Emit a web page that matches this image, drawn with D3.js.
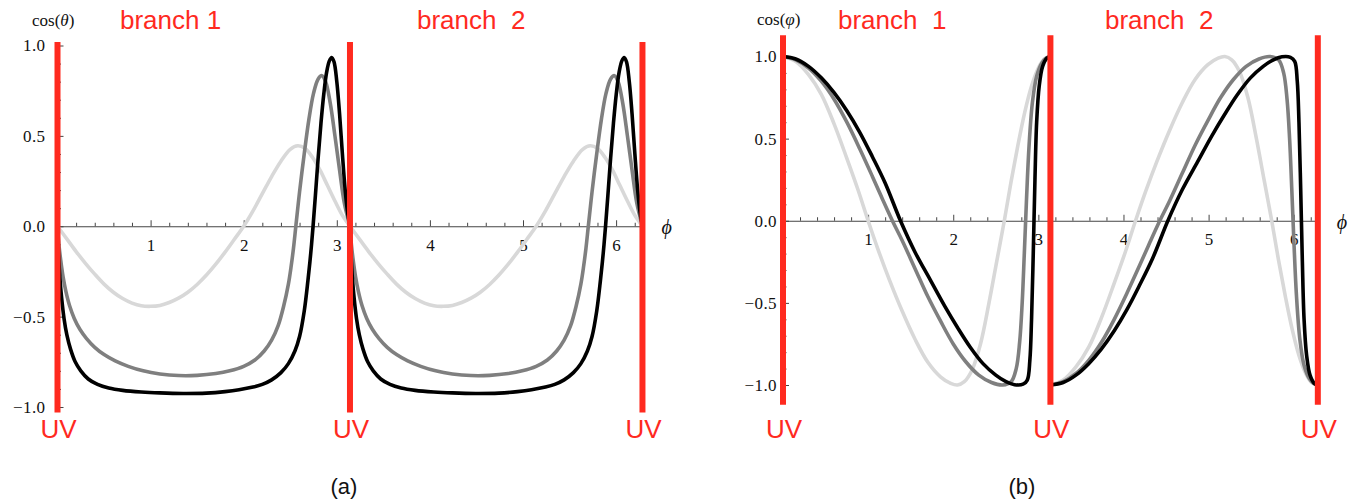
<!DOCTYPE html>
<html><head><meta charset="utf-8">
<script src="https://cdn.jsdelivr.net/npm/d3@7"></script>
<style>body{margin:0;background:#fff} svg{display:block}</style>
</head><body>
<svg id="c" width="1363" height="504"></svg>
<script>
// ---------- DATA ----------
// Panel (a): cos(theta) vs phi on branch 1 (0..pi); branch 2 repeats it.
const thetaLight = [[0,0],[0.1,-0.07],[0.2,-0.14],[0.3,-0.205],[0.4,-0.265],[0.5,-0.32],[0.6,-0.365],[0.7,-0.40],[0.8,-0.425],[0.9,-0.44],[1.0,-0.443],[1.1,-0.438],[1.2,-0.422],[1.3,-0.398],[1.4,-0.365],[1.5,-0.322],[1.6,-0.27],[1.7,-0.21],[1.8,-0.143],[1.9,-0.072],[2.0,0],[2.1,0.085],[2.2,0.18],[2.3,0.275],[2.4,0.36],[2.5,0.425],[2.58,0.445],[2.66,0.43],[2.74,0.38],[2.82,0.31],[2.9,0.225],[2.98,0.14],[3.06,0.06],[3.1416,0]];
const thetaGray = [[0,0],[0.015,-0.1],[0.035,-0.19],[0.06,-0.28],[0.09,-0.36],[0.13,-0.44],[0.18,-0.51],[0.24,-0.57],[0.31,-0.62],[0.4,-0.67],[0.5,-0.71],[0.62,-0.745],[0.76,-0.775],[0.92,-0.80],[1.1,-0.817],[1.3,-0.826],[1.5,-0.825],[1.7,-0.815],[1.85,-0.80],[2.0,-0.775],[2.12,-0.74],[2.22,-0.69],[2.3,-0.63],[2.37,-0.55],[2.43,-0.44],[2.48,-0.32],[2.51,-0.22],[2.535,-0.12],[2.56,0.0],[2.6,0.19],[2.65,0.40],[2.7,0.59],[2.75,0.735],[2.8,0.815],[2.84,0.833],[2.88,0.80],[2.93,0.68],[2.98,0.50],[3.03,0.31],[3.08,0.13],[3.1416,0]];
const thetaBlack = [[0,0],[0.01,-0.14],[0.025,-0.28],[0.045,-0.40],[0.07,-0.51],[0.1,-0.60],[0.14,-0.68],[0.19,-0.75],[0.25,-0.80],[0.33,-0.845],[0.43,-0.875],[0.55,-0.895],[0.7,-0.908],[0.9,-0.917],[1.1,-0.922],[1.35,-0.925],[1.6,-0.923],[1.8,-0.915],[1.95,-0.905],[2.1,-0.89],[2.2,-0.875],[2.3,-0.85],[2.4,-0.81],[2.48,-0.76],[2.55,-0.69],[2.6,-0.61],[2.65,-0.47],[2.69,-0.30],[2.72,-0.15],[2.745,0],[2.77,0.17],[2.8,0.38],[2.83,0.57],[2.86,0.73],[2.89,0.85],[2.92,0.915],[2.945,0.934],[2.97,0.91],[3.0,0.80],[3.03,0.62],[3.06,0.40],[3.09,0.2],[3.115,0.08],[3.1416,0]];
const thetaBranchSign = [1, 1];

// Panel (b): cos(varphi) vs phi on branch 1 (0..pi); branch 2 is its mirror image.
const varphiLight = [[0,1],[0.15,0.97],[0.3,0.89],[0.45,0.77],[0.6,0.59],[0.75,0.38],[0.88,0.19],[1.0,0],[1.12,-0.18],[1.25,-0.36],[1.4,-0.55],[1.55,-0.72],[1.7,-0.86],[1.85,-0.95],[1.97,-0.99],[2.05,-1.0],[2.13,-0.98],[2.22,-0.91],[2.32,-0.75],[2.42,-0.5],[2.51,-0.25],[2.6,0],[2.68,0.24],[2.76,0.46],[2.84,0.66],[2.92,0.82],[3.0,0.93],[3.07,0.985],[3.1416,1]];
const varphiGray = [[0,1],[0.15,0.98],[0.3,0.93],[0.45,0.85],[0.6,0.74],[0.75,0.6],[0.9,0.44],[1.05,0.27],[1.17,0.13],[1.285,0],[1.4,-0.12],[1.55,-0.29],[1.7,-0.46],[1.85,-0.61],[2.0,-0.75],[2.15,-0.86],[2.3,-0.94],[2.45,-0.985],[2.58,-1.0],[2.68,-0.98],[2.74,-0.9],[2.78,-0.74],[2.81,-0.5],[2.835,-0.2],[2.86,0.12],[2.89,0.45],[2.93,0.72],[2.98,0.88],[3.04,0.96],[3.09,0.99],[3.1416,1]];
const varphiBlack = [[0,1],[0.15,0.985],[0.3,0.94],[0.45,0.87],[0.6,0.78],[0.75,0.67],[0.9,0.54],[1.05,0.39],[1.2,0.23],[1.38,0],[1.55,-0.19],[1.73,-0.36],[1.9,-0.52],[2.05,-0.65],[2.2,-0.77],[2.35,-0.87],[2.5,-0.94],[2.62,-0.98],[2.72,-0.998],[2.82,-0.995],[2.87,-0.97],[2.9,-0.85],[2.92,-0.6],[2.94,-0.2],[2.96,0.25],[2.98,0.6],[3.01,0.82],[3.05,0.94],[3.1,0.99],[3.1416,1]];
const varphiBranchSign = [1, -1];

const branchOffsets = [0, Math.PI];
const uvPositions = [0, Math.PI, 2 * Math.PI];
const xTickValues = [1, 2, 3, 4, 5, 6];
const yTickValues = [-1, -0.5, 0, 0.5, 1];
const yTickLabels = ["\u22121.0", "\u22120.5", "0.0", "0.5", "1.0"];
const branchLabels = ["branch 1", "branch  2"];
const branchLabelsB = ["branch  1", "branch  2"];

// ---------- DRAWING ----------
const svg = d3.select("#c");
const RED = "#ff2a1f";
const SERIF = "'Liberation Serif', 'Times New Roman', serif";
const SANS = "'Liberation Sans', Arial, sans-serif";
const seriesColors = ["#d8d8d8", "#7f7f7f", "#000000"];

function drawPanel(p) {
  const g = svg.append("g");
  const x = d3.scaleLinear().domain([0, 2 * Math.PI]).range(p.xRange);
  const y = d3.scaleLinear().domain([-1, 1]).range(p.yRange);

  const minorX = d3.range(1, 32).map(i => i * 0.2).filter(v => Math.abs(v - Math.round(v)) > 1e-6 && v < 2 * Math.PI);
  const minorY = d3.range(-10, 11).map(i => i / 10).filter(v => Math.abs(v * 2 - Math.round(v * 2)) > 1e-6);

  // x axis (ticks pointing up, labels below)
  const gx = g.append("g").attr("transform", `translate(0,${y(0)})`);
  gx.append("g").call(d3.axisBottom(x).tickValues(minorX).tickSize(-3.5).tickFormat(""))
    .call(s => s.select(".domain").remove());
  gx.append("g").call(d3.axisBottom(x).tickValues(xTickValues).tickSizeInner(-6).tickSizeOuter(0).tickPadding(p.xPad).tickFormat(d3.format("d")));
  gx.selectAll("line").attr("stroke", "#444");
  gx.selectAll(".domain").attr("stroke", "#444");
  gx.selectAll("g").attr("font-family", null).attr("font-size", null);
  gx.selectAll("text").style("font-family", SERIF).style("font-size", "17px").attr("fill", "#111");

  // y axis (ticks pointing right, labels left)
  const gy = g.append("g").attr("transform", `translate(${x(0)},0)`);
  gy.append("g").call(d3.axisLeft(y).tickValues(minorY).tickSize(-3.5).tickFormat(""))
    .call(s => s.select(".domain").remove());
  gy.append("g").call(d3.axisLeft(y).tickValues(yTickValues).tickSizeInner(-6).tickSizeOuter(0).tickPadding(p.yPad)
      .tickFormat((d, i) => yTickLabels[i]));
  gy.selectAll("line").attr("stroke", "#444");
  gy.selectAll(".domain").attr("stroke", "#444");
  gy.selectAll("text").style("font-family", SERIF).style("font-size", "17px").attr("fill", "#111").attr("letter-spacing", "0.4px");

  // curves
  const line = d3.line().x(d => x(d[0])).y(d => y(d[1])).curve(d3.curveCatmullRom.alpha(0.5));
  branchOffsets.forEach((off, b) => {
    p.series.forEach((s, i) => {
      const pts = s.map(d => [d[0] + off, p.signs[b] * d[1]]);
      g.append("path").datum(pts).attr("d", line)
        .attr("fill", "none").attr("stroke", seriesColors[i])
        .attr("stroke-width", 3.6).attr("stroke-linejoin", "round").attr("stroke-linecap", "round");
    });
  });

  // UV red lines
  g.selectAll(".uv").data(uvPositions).join("line")
    .attr("x1", d => x(d)).attr("x2", d => x(d))
    .attr("y1", y(p.redTop)).attr("y2", y(p.redBottom))
    .attr("stroke", RED).attr("stroke-width", 6);
  g.selectAll(".uvt").data(uvPositions).join("text")
    .attr("x", d => x(d) + 1).attr("y", 438).attr("text-anchor", "middle")
    .style("font-family", SANS).style("font-size", "26px").attr("fill", RED)
    .text("UV");

  // branch labels
  p.branchText.forEach((t, i) => {
    g.append("text").attr("x", p.branchX[i]).attr("y", 29)
      .style("font-family", SANS).style("font-size", "26px").attr("fill", RED)
      .style("white-space", "pre").text(t);
  });

  // axis names
  const yl = g.append("text").attr("x", p.yLabelX).attr("y", p.yLabelY)
    .style("font-family", SERIF).style("font-size", "17px").attr("fill", "#111");
  yl.append("tspan").text("cos(");
  yl.append("tspan").attr("font-style", "italic").text(p.yVar);
  yl.append("tspan").text(")");
  g.append("text").attr("x", x(2 * Math.PI) + 19).attr("y", y(0) + 8)
    .style("font-family", SERIF).attr("font-style", "italic").style("font-size", "20px").attr("fill", "#111")
    .text("\u03D5");

  // subcaption
  g.append("text").attr("x", p.capX).attr("y", 494).attr("text-anchor", "middle")
    .style("font-family", SANS).style("font-size", "22px").attr("fill", "#111")
    .text(p.caption);
}

drawPanel({
  xRange: [57.5, 57.5 + 93.1 * 2 * Math.PI], yRange: [407, 45.5],
  series: [thetaLight, thetaGray, thetaBlack], signs: thetaBranchSign,
  redTop: 1.02, redBottom: -1.03, xPad: 12.5, yPad: 12,
  branchText: branchLabels, branchX: [120, 417],
  yLabelX: 32, yLabelY: 26, yVar: "\u03B8", caption: "(a)", capX: 344
});
drawPanel({
  xRange: [783, 783 + 85.12 * 2 * Math.PI], yRange: [385, 56.5],
  series: [varphiLight, varphiGray, varphiBlack], signs: varphiBranchSign,
  redTop: 1.13, redBottom: -1.12, xPad: 12, yPad: 6,
  branchText: branchLabelsB, branchX: [838, 1105],
  yLabelX: 757, yLabelY: 25, yVar: "\u03C6", caption: "(b)", capX: 1022
});
</script></body></html>
